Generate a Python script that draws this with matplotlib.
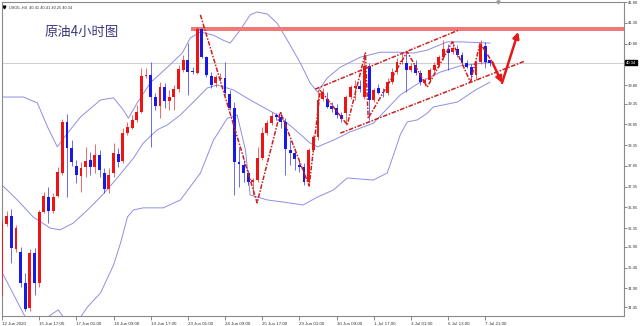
import matplotlib.pyplot as plt
import numpy as np

plt.rcParams['font.family'] = ['DejaVu Sans']

# USOIL 4h candles, 12 Jun 2020 -> 7 Jul 2020
opens = [35.27, 36.45, 36.64, 35.85, 35.78, 35.03, 34.43, 35.75, 35.03, 36.74,
         37.10, 36.76, 37.13, 37.68, 38.91, 38.28, 37.85, 37.61, 37.82, 37.99,
         37.82, 38.11, 37.68, 37.29, 37.68, 38.14, 37.97, 38.64, 38.76, 38.96,
         39.15, 40.02, 40.04, 39.51, 39.29, 39.75, 39.41, 39.51, 39.70, 40.16,
         40.40, 40.14, 40.09, 41.15, 40.47, 40.02, 39.85, 39.94, 39.97, 39.58,
         39.25, 37.94, 37.87, 37.68, 37.46, 37.51, 38.04, 38.64, 38.88, 39.08,
         39.03, 38.91, 38.23, 38.16, 37.87, 37.82, 37.46, 38.23, 38.55, 39.46,
         39.46, 39.29, 39.25, 39.08, 39.13, 39.51, 39.73, 39.78, 39.51, 40.26,
         39.44, 39.73, 39.63, 39.61, 39.87, 40.11, 40.35, 40.33, 40.16, 40.28,
         40.09, 39.85, 39.92, 40.16, 40.28, 40.47, 40.67, 40.60, 40.67, 40.52,
         40.33, 40.23, 40.04, 40.35, 40.74, 40.41]
highs = [36.55, 36.76, 36.81, 36.43, 35.90, 35.27, 35.85, 35.87, 36.79, 37.22,
         37.34, 37.20, 37.82, 38.98, 39.10, 38.47, 37.99, 37.94, 38.31, 38.19,
         38.38, 38.23, 37.80, 37.80, 38.40, 38.28, 38.76, 38.91, 39.08, 39.32,
         40.21, 40.21, 40.35, 39.61, 39.87, 39.85, 39.68, 39.80, 40.28, 40.52,
         40.81, 40.23, 41.20, 41.17, 40.50, 40.11, 40.04, 40.09, 40.35, 39.68,
         39.39, 38.31, 37.99, 37.75, 37.56, 38.31, 38.79, 38.96, 39.15, 39.12,
         39.15, 39.00, 38.47, 38.28, 37.99, 37.92, 38.28, 38.60, 39.68, 39.73,
         39.63, 39.39, 39.34, 39.15, 39.56, 39.80, 39.92, 39.92, 40.57, 40.33,
         39.73, 39.82, 39.73, 39.97, 40.21, 40.45, 40.60, 40.60, 40.33, 40.40,
         40.16, 39.97, 40.21, 40.35, 40.52, 40.88, 40.79, 40.86, 40.76, 40.60,
         40.40, 40.31, 40.40, 40.88, 40.84, 40.41]
lows = [34.74, 36.40, 35.51, 35.78, 34.93, 34.35, 34.35, 34.74, 34.93, 36.72,
        36.47, 36.72, 37.10, 37.63, 37.10, 37.85, 37.44, 37.22, 37.58, 37.63,
        37.68, 37.58, 37.20, 37.20, 37.58, 37.82, 37.92, 38.60, 38.74, 38.91,
        39.13, 39.97, 38.31, 39.20, 39.00, 39.25, 39.20, 39.20, 39.63, 40.11,
        39.56, 40.06, 40.06, 40.45, 39.99, 39.73, 39.75, 39.90, 39.56, 39.20,
        37.15, 37.34, 37.46, 37.39, 37.15, 37.46, 37.99, 38.60, 38.84, 38.96,
        38.76, 37.63, 37.87, 37.75, 37.70, 37.39, 37.37, 38.19, 38.48, 39.41,
        39.25, 39.15, 39.00, 38.91, 38.84, 39.46, 39.44, 39.63, 39.46, 38.96,
        39.39, 39.58, 39.51, 39.56, 39.82, 40.07, 40.31, 39.63, 40.11, 40.04,
        39.80, 39.78, 39.87, 40.11, 40.23, 40.40, 40.16, 40.55, 40.47, 40.28,
        40.21, 39.92, 39.92, 40.31, 40.21, 40.25]
closes = [36.45, 36.64, 35.87, 36.35, 35.03, 34.40, 35.75, 35.03, 36.74, 37.13,
          36.76, 37.10, 37.70, 38.91, 38.28, 37.94, 37.63, 37.80, 37.97, 37.82,
          38.11, 37.75, 37.29, 37.63, 38.16, 37.94, 38.64, 38.79, 38.96, 39.15,
          40.02, 40.04, 39.51, 39.29, 39.75, 39.41, 39.51, 39.70, 40.19, 40.40,
          40.11, 40.11, 41.15, 40.47, 40.04, 39.80, 39.99, 39.97, 39.61, 39.25,
          37.94, 37.90, 37.68, 37.46, 37.51, 38.04, 38.64, 38.88, 39.05, 39.03,
          38.91, 38.26, 38.16, 38.02, 37.82, 37.46, 38.23, 38.55, 39.44, 39.63,
          39.27, 39.22, 39.08, 38.98, 39.51, 39.75, 39.78, 39.70, 40.26, 39.44,
          39.68, 39.61, 39.60, 39.87, 40.11, 40.35, 40.38, 40.16, 40.26, 40.09,
          39.87, 39.92, 40.16, 40.28, 40.47, 40.67, 40.57, 40.69, 40.52, 40.33,
          40.23, 40.04, 40.35, 40.76, 40.35, 40.34]

# Bollinger bands (candle index, price)
upper_idx = [0, 4.6, 7.6, 9.8, 11.9, 14.1, 16.9, 21.2, 24.0, 26.1, 27.2, 29.1, 31.9,
             35.6, 38.8, 40.5, 42.7, 45.5, 47.6, 49.1, 51.3, 53.4, 54.9, 57.1, 59.2,
             61.4, 64.2, 66.3, 67.9, 70.0, 72.8, 77.1, 81.4, 85.7, 88.5, 91.5, 95.8,
             98.6, 105]
upper_val = [39.51, 39.51, 39.37, 38.79, 38.31, 38.64, 39.03, 39.44, 39.49, 39.20,
             39.00, 39.37, 39.85, 40.23, 40.57, 40.93, 41.08, 41.00, 40.88, 40.81,
             41.13, 41.49, 41.56, 41.51, 41.29, 40.88, 40.33, 39.85, 39.63, 39.97,
             40.23, 40.47, 40.59, 40.59, 40.57, 40.64, 40.84, 40.84, 40.81]
mid_idx = [0, 3.3, 6.7, 10.4, 12.5, 15.3, 18.4, 21.2, 24.8, 28.3, 30.4, 33.4, 35.6,
           38.4, 41.2, 44.2, 46.3, 49.8, 53.4, 59.2, 62.7, 66.3, 67.9, 71.3, 74.9,
           79.9, 85.7, 90.0, 94.3, 98.6, 105]
mid_val = [37.39, 37.03, 36.62, 36.35, 36.31, 36.47, 36.79, 37.10, 37.56, 38.04,
           38.40, 38.72, 38.84, 39.08, 39.39, 39.73, 39.80, 39.68, 39.44, 39.08,
           38.76, 38.40, 38.31, 38.47, 38.67, 38.88, 39.56, 39.87, 40.11, 40.26,
           40.35]
lower_idx = [0, 5.0, 8.2, 9.8, 12.1, 13.2, 15.1, 16.9, 18.4, 21.2, 24.0, 25.5, 27.0,
             28.3, 30.4, 34.7, 38.4, 42.7, 45.5, 48.5, 50.6, 52.4, 53.4, 57.1, 60.5,
             64.8, 67.9, 71.3, 74.3, 79.9, 82.9, 84.6, 85.7, 87.2, 89.4, 91.5, 92.8,
             98.0, 101.9, 105]
lower_val = [35.29, 34.21, 34.02, 34.21, 34.38, 34.21, 34.02, 34.21, 34.45, 34.79,
             35.46, 35.99, 36.62, 36.79, 36.84, 36.84, 37.03, 37.68, 38.47, 39.00,
             39.08, 38.23, 37.15, 37.03, 36.98, 36.91, 37.10, 37.27, 37.56, 37.51,
             37.68, 38.23, 38.60, 38.91, 38.96, 39.12, 39.27, 39.39, 39.68, 39.87]

# hand drawn analysis lines
zig_idx = [42.7, 54.9, 59.9, 66.1, 68.5, 74.3, 78.2, 78.8, 87.2, 91.5, 96.9, 100.8, 102.9, 105.5]
zig_val = [41.49, 36.96, 39.15, 37.37, 39.68, 38.84, 40.57, 39.00, 40.60, 39.75, 40.84, 39.87, 40.81, 40.35]
chan_top_idx, chan_top_val = [67.4, 98.2], [39.70, 41.12]
chan_bot_idx, chan_bot_val = [72.8, 112.6], [38.64, 40.38]
arrow_idx = [105.5, 107.6, 111.1]
arrow_val = [40.35, 39.85, 41.08]
res_start, res_lo, res_hi = 40.7, 41.10, 41.20
shift_idx = 106.7

last_price = 40.34
ytick_vals = [41.80, 41.30, 40.80, 39.80, 39.35, 38.85, 38.35, 37.85, 37.35,
              36.85, 36.35, 35.90, 35.40, 34.90, 34.45]
xtick_labels = ['12 Jun 2020', '15 Jun 17:00', '17 Jun 01:00', '18 Jun 09:00',
                '19 Jun 17:00', '23 Jun 01:00', '24 Jun 09:00', '25 Jun 17:00',
                '29 Jun 01:00', '30 Jun 09:00', '1 Jul 17:00', '3 Jul 01:00',
                '6 Jul 13:00', '7 Jul 21:00']

RED = '#ee1414'
BLUE = '#1818e8'
BAND = '#8e8ee6'
TICKFONT = ['Liberation Sans', 'DejaVu Sans']

fig = plt.figure(figsize=(6.4, 3.26), dpi=100)
ax = fig.add_axes([2 / 640, 10 / 326, 622 / 640, 314 / 326])
x_max = 133.85
ax.set_xlim(0, x_max)
ax.set_ylim(34.234, 41.80)

# bands
ax.plot(upper_idx, upper_val, color=BAND, lw=0.7, zorder=2)
ax.plot(mid_idx, mid_val, color=BAND, lw=0.7, zorder=2)
ax.plot(lower_idx, lower_val, color=BAND, lw=0.7, zorder=2)

# current price line
ax.axhline(last_price, color='#c8c8c8', lw=0.6, zorder=1)

# resistance zone
ax.fill_between([res_start, x_max], res_lo, res_hi, color='#f27878', lw=0, zorder=2)

# candles
idx = np.arange(len(opens))
o = np.array(opens)
c = np.array(closes)
cols = [RED if cc >= oo else BLUE for oo, cc in zip(o, c)]
ax.vlines(idx, lows, highs, colors=cols, lw=0.6, alpha=0.75, zorder=3)
body = np.maximum(np.abs(c - o), 0.025)
ax.bar(idx, body, bottom=np.minimum(o, c), width=0.62, color=cols, lw=0, zorder=4)

# analysis lines
dash = (0, (3, 1, 1, 1))
ax.plot(zig_idx, zig_val, color='#cc1f1f', lw=1.1, ls=dash, zorder=5)
ax.plot(chan_top_idx, chan_top_val, color='#cc1f1f', lw=1.1, ls=dash, zorder=5)
ax.plot(chan_bot_idx, chan_bot_val, color='#cc1f1f', lw=1.1, ls=dash, zorder=5)
for k in range(2):
    ax.annotate('', xy=(arrow_idx[k + 1], arrow_val[k + 1]),
                xytext=(arrow_idx[k], arrow_val[k]),
                arrowprops=dict(arrowstyle='-|>', color='#e31a1a', lw=1.8,
                                mutation_scale=9, shrinkA=0, shrinkB=0),
                zorder=6)

# chart shift marker at the top
ax.plot([shift_idx], [41.80], marker='v', ms=2.2, color='#9a9a9a',
        clip_on=False, zorder=6)

# axes styling, MT4 look
for s in ax.spines.values():
    s.set_color('#8a8a8a')
    s.set_linewidth(0.8)
ax.yaxis.tick_right()
ax.set_yticks(ytick_vals)
ax.set_yticklabels([f'{v:.2f}' for v in ytick_vals], family=TICKFONT)
ax.tick_params(axis='y', length=2, width=0.5, pad=1, labelsize=3.0,
               colors='#555555', labelcolor='#333333')
ax.set_xticks(np.arange(0, 8 * len(xtick_labels), 8))
ax.set_xticklabels(xtick_labels, family=TICKFONT)
ax.tick_params(axis='x', length=3, width=0.5, pad=1, labelsize=3.2,
               colors='#555555', labelcolor='#333333')
for lab in ax.get_xticklabels():
    lab.set_horizontalalignment('left')

ax.text(1.003, last_price, f'{last_price:.2f}', transform=ax.get_yaxis_transform(),
        fontsize=3.0, color='white', va='center', ha='left', family=TICKFONT,
        bbox=dict(boxstyle='square,pad=0.2', fc='black', ec='black'))

# header and title
ax.text(0.012, 0.988, 'USOIL,H4  40.41 40.41 40.25 40.34', transform=ax.transAxes,
        fontsize=2.8, color='#333333', va='top', ha='left', family=TICKFONT)
ax.plot([0.004], [0.985], marker='v', ms=2, color='black', transform=ax.transAxes,
        clip_on=False)
fig.text(45 / 640, 1 - 32 / 326, '原油4小时图', fontsize=9.6, color='#3a3a7c',
         va='center', ha='left', family=['Noto Sans CJK SC', 'DejaVu Sans'])

fig.savefig('out.png', dpi=100, facecolor='white')
